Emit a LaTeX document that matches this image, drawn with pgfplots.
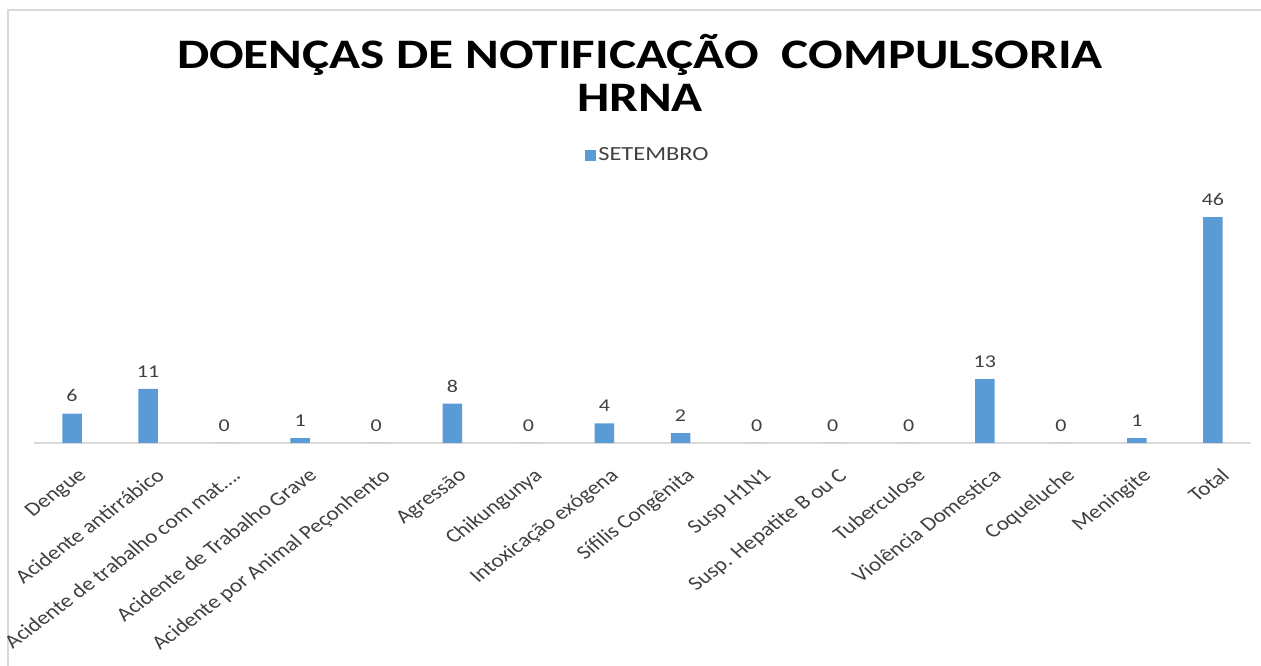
\documentclass[border=0pt]{standalone}
\usepackage{graphicx}
\usepackage{pgfplots}
\pgfplotsset{compat=1.18}
\usepackage{fontspec}
\setmainfont{Carlito}
\definecolor{barblue}{HTML}{5B9BD5}
\definecolor{txt}{HTML}{404040}
\definecolor{gridc}{HTML}{D9D9D9}
\newcommand\RL[1]{\scalebox{1.2}[1]{\rotatebox{42}{#1}}}
\begin{document}
\begin{tikzpicture}[x=1pt,y=1pt]
\useasboundingbox (0,0) rectangle (1261,666);
\draw[gridc,line width=2.5pt] (8,-10) -- (8,656) -- (1275,656);
\node[font=\fontsize{42}{46}\bfseries\selectfont, text=black] at (640,611) {\scalebox{1.22}[1]{DOENÇAS DE NOTIFICAÇÃO\ \ COMPULSORIA}};
\node[font=\fontsize{42}{46}\bfseries\selectfont, text=black] at (640,568) {\scalebox{1.22}[1]{HRNA}};
\begin{axis}[
  at={(34pt,223pt)}, anchor=south west,
  scale only axis, width=1217pt, height=245.5pt,
  xmin=-0.5, xmax=15.5, ymin=0, ymax=50,
  axis y line=none,
  axis x line*=bottom,
  x axis line style={gridc, line width=1.2pt, -},
  xtick=data,
  xtick style={draw=none},
  xticklabels={\RL{Dengue}, \RL{Acidente antirrábico}, \RL{Acidente de trabalho com mat….}, \RL{Acidente de Trabalho Grave}, \RL{Acidente por Animal Peçonhento}, \RL{Agressão}, \RL{Chikungunya}, \RL{Intoxicação exógena}, \RL{Sífilis Congênita}, \RL{Susp H1N1}, \RL{Susp. Hepatite B ou C}, \RL{Tuberculose}, \RL{Violência Domestica}, \RL{Coqueluche}, \RL{Meningite}, \RL{Total}},
  xticklabel style={anchor=north east, inner sep=0pt, font=\fontsize{19.4}{21}\selectfont, text=txt, xshift=18pt, yshift=-20pt},
  ybar, bar width=19.5pt,
  /pgf/number format/assume math mode=true,
  nodes near coords={\scalebox{1.22}[1]{\pgfmathprintnumber{\pgfplotspointmeta}}},
  nodes near coords style={font=\fontsize{18}{20}\selectfont, text=txt, yshift=8pt},
  legend style={at={(0.5045,1.173)}, anchor=center, draw=none, fill=none, font=\fontsize{20}{22}\selectfont, text=txt, inner sep=0pt},
  legend image code/.code={\fill[#1] (-8pt,-5.5pt) rectangle (3pt,5.5pt);},
  clip=false,
]
\addplot[fill=barblue, draw=none] coordinates {
(0,6) (1,11) (2,0) (3,1) (4,0) (5,8) (6,0) (7,4) (8,2) (9,0) (10,0) (11,0) (12,13) (13,0) (14,1) (15,46)};
\addlegendentry{\scalebox{1.22}[1]{SETEMBRO}}
\end{axis}
\end{tikzpicture}
\end{document}
